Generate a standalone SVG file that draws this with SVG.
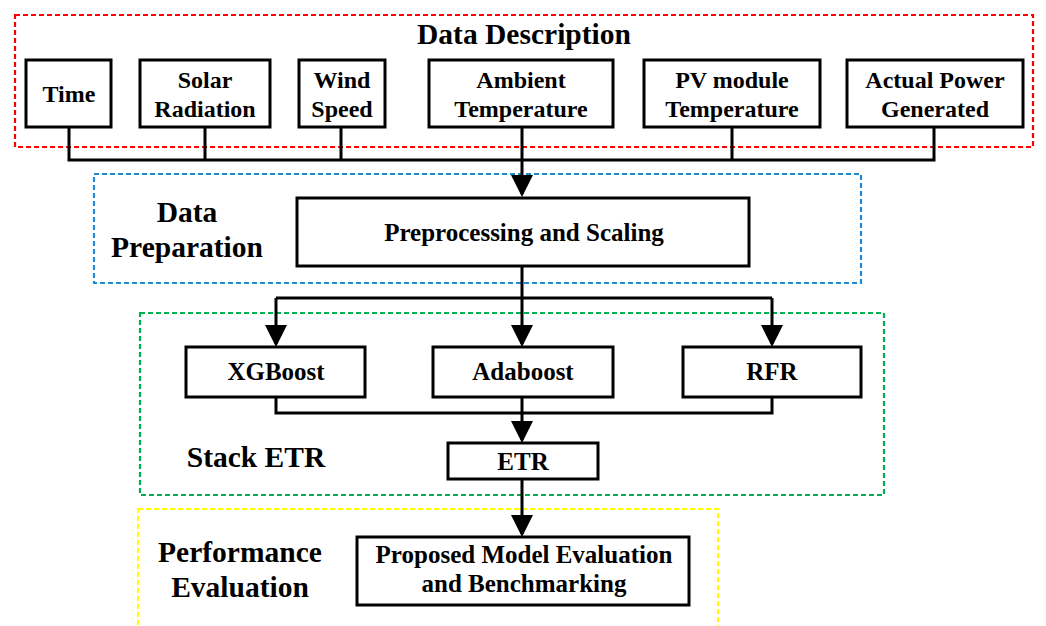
<svg xmlns="http://www.w3.org/2000/svg" width="1046" height="626" viewBox="0 0 1046 626">
<style>
.box{fill:#fff;stroke:#000;stroke-width:3}
.grp{fill:none;stroke-width:2.2;stroke-dasharray:5 3}
.t{font-family:"Liberation Serif","Times New Roman",serif;font-weight:bold;fill:#000;text-anchor:middle}
.s{font-size:24px}
.m{font-size:25px}
.l{font-size:29.5px}
.c{fill:none;stroke:#000;stroke-width:3}
</style>
<defs>
<marker id="arr" viewBox="0 0 22 22" refX="19" refY="11" markerWidth="22" markerHeight="22" markerUnits="userSpaceOnUse" orient="auto">
<path d="M0,0 L22,11 L0,22 z" fill="#000"/>
</marker>
</defs>
<rect width="1046" height="626" fill="#fff"/>

<g id="groups">
<rect class="grp" x="15" y="15" width="1018" height="132" stroke="#FF0000"/>
<rect class="grp" x="94" y="174" width="767" height="109" stroke="#1E8AD6"/>
<rect class="grp" x="140" y="313" width="744" height="182" stroke="#00B050"/>
<rect class="grp" x="138" y="509" width="580" height="130" stroke="#FFFF00"/>
</g>

<g id="connectors">
<path class="c" d="M69,127 V160 H934 V127 M205,127 V160 M341,127 V160 M732,127 V160"/>
<path class="c" d="M522,127 V194" marker-end="url(#arr)"/>
<path class="c" d="M522,266 V298 M276,298 H772"/>
<path class="c" d="M276,298 V344" marker-end="url(#arr)"/>
<path class="c" d="M522,298 V344" marker-end="url(#arr)"/>
<path class="c" d="M772,298 V344" marker-end="url(#arr)"/>
<path class="c" d="M276,397 V413 H772 V397 M522,397 V413"/>
<path class="c" d="M522,413 V440" marker-end="url(#arr)"/>
<path class="c" d="M522,479 V534" marker-end="url(#arr)"/>
</g>

<text class="t l" x="524" y="44">Data Description</text>

<g id="time"><rect class="box" x="26" y="60" width="85" height="67"/><text class="t s" x="69" y="102">Time</text></g>
<g id="solar"><rect class="box" x="140" y="60" width="130" height="67"/><text class="t s" x="205" y="88">Solar</text><text class="t s" x="205" y="117">Radiation</text></g>
<g id="wind"><rect class="box" x="299" y="60" width="86" height="67"/><text class="t s" x="342" y="88">Wind</text><text class="t s" x="342" y="117">Speed</text></g>
<g id="ambient"><rect class="box" x="429" y="60" width="184" height="67"/><text class="t s" x="521" y="88">Ambient</text><text class="t s" x="521" y="117">Temperature</text></g>
<g id="pv"><rect class="box" x="644" y="60" width="176" height="67"/><text class="t s" x="732" y="88">PV module</text><text class="t s" x="732" y="117">Temperature</text></g>
<g id="power"><rect class="box" x="847" y="60" width="176" height="67"/><text class="t s" x="935" y="88">Actual Power</text><text class="t s" x="935" y="117">Generated</text></g>

<g id="prep-label"><text class="t l" x="187" y="222">Data</text><text class="t l" x="187" y="257">Preparation</text></g>
<g id="preprocessing"><rect class="box" x="297" y="198" width="452" height="68"/><text class="t m" x="524" y="241">Preprocessing and Scaling</text></g>

<g id="xgboost"><rect class="box" x="186" y="347" width="179" height="50"/><text class="t m" x="276" y="380">XGBoost</text></g>
<g id="adaboost"><rect class="box" x="433" y="347" width="180" height="50"/><text class="t m" x="523" y="380">Adaboost</text></g>
<g id="rfr"><rect class="box" x="683" y="347" width="178" height="50"/><text class="t m" x="772" y="380">RFR</text></g>
<g id="stack-label"><text class="t l" x="256" y="467">Stack ETR</text></g>
<g id="etr"><rect class="box" x="448" y="443" width="150" height="36"/><text class="t m" x="523" y="470">ETR</text></g>

<g id="perf-label"><text class="t l" x="240" y="562">Performance</text><text class="t l" x="240" y="597">Evaluation</text></g>
<g id="proposed"><rect class="box" x="357" y="537" width="332" height="68"/><text class="t m" x="524" y="563">Proposed Model Evaluation</text><text class="t m" x="524" y="592">and Benchmarking</text></g>
</svg>
